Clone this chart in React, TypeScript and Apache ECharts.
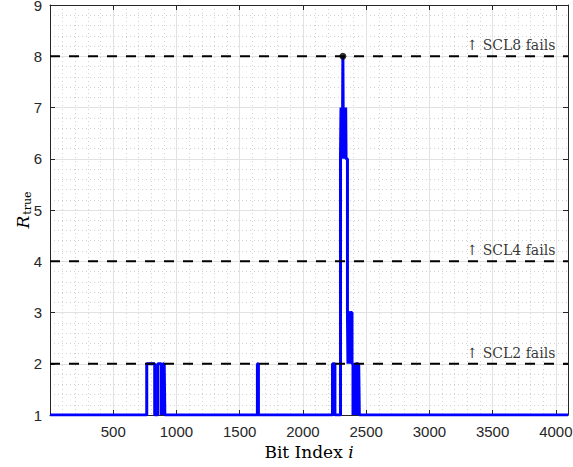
import React, { useEffect, useRef } from 'react';
import * as echarts from 'echarts';

// Step data: value R_true held from each change index until the next one
const changeIdx = [
  1, 765, 828, 852, 880, 884, 889, 893, 899, 903, 908,
  1640, 1648,
  2234, 2253,
  2297, 2301, 2304, 2307, 2311, 2314, 2316, 2318, 2321, 2324, 2328, 2331, 2335, 2338, 2341,
  2352, 2356, 2360, 2365, 2369, 2375, 2380, 2388,
  2396, 2400, 2405, 2409, 2414, 2418, 2425, 2429, 2437, 2441, 2446,
];
const changeVal = [
  1, 2, 1, 2, 1, 2, 1, 2, 1, 2, 1,
  2, 1,
  2, 1,
  6, 7, 6, 7, 6, 7, 8, 7, 6, 7, 6, 7, 6, 7, 6,
  3, 2, 3, 2, 3, 2, 3, 2,
  1, 2, 1, 2, 1, 2, 1, 2, 1, 2, 1,
];
const lastIdx = 4096;

const thresholds = [2, 4, 8];
const thresholdLabels = ['↑ SCL2 fails', '↑ SCL4 fails', '↑ SCL8 fails'];
const labelAnchorX = 4000;
const peakPoint = [2316, 8];

const xMin = 0;
const xMax = 4096;
const xStep = 500;
const yMin = 1;
const yMax = 9;
const yStep = 1;

export default function App() {
  const ref = useRef<HTMLDivElement>(null);

  useEffect(() => {
    const chart = echarts.init(ref.current!, null, { renderer: 'svg' });
    const stepData: number[][] = changeIdx.map((x, i) => [x, changeVal[i]]);
    stepData.push([lastIdx, changeVal[changeVal.length - 1]]);

    const axisColor = '#262626';
    const majorGrid = { show: true, lineStyle: { color: '#e2e2e2', width: 1 } };
    const minorGrid = { show: true, lineStyle: { color: '#d2d2d2', width: 1, type: [1, 3] as any } };
    const tickLabel = { fontFamily: 'Liberation Sans', fontSize: 15, color: axisColor };

    const thresholdSeries = thresholds.map((t) => ({
      type: 'line',
      data: [[xMin, t], [xMax, t]],
      showSymbol: false,
      symbol: 'none',
      lineStyle: { color: '#000', width: 2, type: [10, 9] },
      z: 5,
      silent: true,
    }));

    chart.setOption({
      animation: false,
      grid: { left: 50, right: 5, top: 5, bottom: 52, show: false, containLabel: false, outerBoundsMode: 'none' },
      xAxis: [
        {
          type: 'value',
          min: xMin,
          max: xMax,
          interval: xStep,
          position: 'bottom',
          axisLine: { show: true, onZero: false, lineStyle: { color: axisColor, width: 1 } },
          axisTick: { show: true, inside: true, length: 5, lineStyle: { color: axisColor } },
          axisLabel: {
            ...tickLabel,
            margin: 9,
            showMaxLabel: false,
            formatter: (v: number) => (v === 0 ? '' : String(v)),
          },
          splitLine: majorGrid,
          minorTick: { show: false, splitNumber: 5 },
          minorSplitLine: minorGrid,
          name: '{a|Bit Index }{b|i}',
          nameLocation: 'middle',
          nameGap: 28,
          nameMoveOverlap: false,
          nameTextStyle: {
            rich: {
              a: { fontFamily: 'DejaVu Serif', fontSize: 17, color: '#000' },
              b: { fontFamily: 'DejaVu Serif', fontSize: 17, fontStyle: 'italic', color: '#000' },
            },
          },
        },
        {
          type: 'value',
          min: xMin,
          max: xMax,
          interval: xStep,
          position: 'top',
          axisLine: { show: true, onZero: false, lineStyle: { color: axisColor, width: 1 } },
          axisTick: { show: true, inside: true, length: 5, lineStyle: { color: axisColor } },
          axisLabel: { show: false },
          splitLine: { show: false },
        },
      ],
      yAxis: [
        {
          type: 'value',
          min: yMin,
          max: yMax,
          interval: yStep,
          position: 'left',
          axisLine: { show: true, onZero: false, lineStyle: { color: axisColor, width: 1 } },
          axisTick: { show: true, inside: true, length: 5, lineStyle: { color: axisColor } },
          axisLabel: { ...tickLabel, margin: 8 },
          splitLine: majorGrid,
          minorTick: { show: false, splitNumber: 5 },
          minorSplitLine: minorGrid,
          name: '{r|R}{s|true}',
          nameLocation: 'middle',
          nameGap: 18,
          nameRotate: 90,
          nameMoveOverlap: false,
          nameTextStyle: {
            rich: {
              r: { fontFamily: 'DejaVu Serif', fontSize: 17, fontStyle: 'italic', color: '#000', lineHeight: 18, verticalAlign: 'top' },
              s: { fontFamily: 'DejaVu Serif', fontSize: 11, color: '#000', lineHeight: 11, padding: [8, 0, 0, 1], verticalAlign: 'top' },
            },
          },
        },
        {
          type: 'value',
          min: yMin,
          max: yMax,
          interval: yStep,
          position: 'right',
          axisLine: { show: true, onZero: false, lineStyle: { color: axisColor, width: 1 } },
          axisTick: { show: true, inside: true, length: 5, lineStyle: { color: axisColor } },
          axisLabel: { show: false },
          splitLine: { show: false },
        },
      ],
      series: [
        {
          type: 'line',
          data: stepData,
          step: 'end',
          showSymbol: false,
          symbol: 'none',
          lineStyle: { color: '#0000ff', width: 3 },
          z: 3,
          silent: true,
        },
        ...thresholdSeries,
        {
          type: 'scatter',
          data: thresholds.map((t) => [labelAnchorX, t]),
          symbolSize: 1,
          itemStyle: { color: 'rgba(0,0,0,0)' },
          label: {
            show: true,
            position: 'left',
            distance: 0,
            offset: [0, -11],
            fontFamily: 'DejaVu Serif',
            fontSize: 14,
            color: '#000',
            formatter: (p: any) => thresholdLabels[p.dataIndex],
          },
          z: 6,
          silent: true,
        },
        {
          type: 'scatter',
          data: [peakPoint],
          symbol: 'circle',
          symbolSize: 7,
          itemStyle: { color: '#000' },
          z: 7,
          silent: true,
        },
      ],
    });

    return () => chart.dispose();
  }, []);

  return <div ref={ref} style={{ position: 'absolute', left: 0, top: 0, width: 573, height: 467 }} />;
}
